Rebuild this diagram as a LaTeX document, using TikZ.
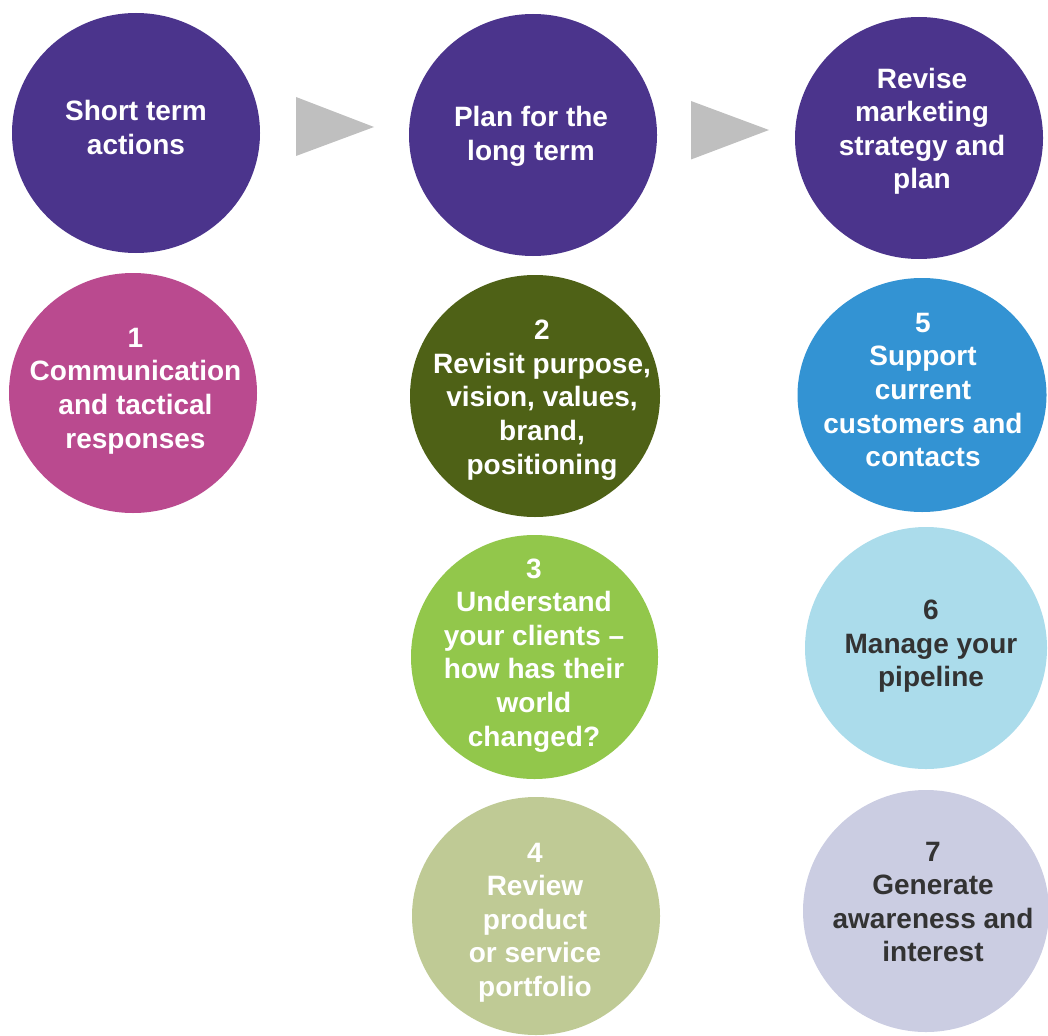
\documentclass[tikz,border=0pt]{standalone}
\usepackage{fontspec}
\setmainfont{Liberation Sans}
\usetikzlibrary{shapes.geometric}

\definecolor{stagepurple}{RGB}{75,52,140}
\definecolor{stepmagenta}{RGB}{186,74,143}
\definecolor{stepolive}{RGB}{78,97,22}
\definecolor{stepblue}{RGB}{51,147,211}
\definecolor{steplime}{RGB}{146,199,75}
\definecolor{stepsage}{RGB}{191,202,149}
\definecolor{stepsky}{RGB}{171,220,235}
\definecolor{steplavender}{RGB}{203,205,226}
\definecolor{flowgray}{RGB}{191,191,191}
\definecolor{darktext}{RGB}{51,51,51}

\tikzset{
  bubble/.style={ellipse, inner sep=0pt, outer sep=0pt, draw=none},
  caption/.style={anchor=north, inner sep=0pt, align=center, text=white,
    font=\fontsize{28}{33.6}\selectfont\bfseries},
  darkcaption/.style={caption, text=darktext},
  flowarrow/.style={fill=flowgray}
}

\begin{document}
\begin{tikzpicture}[x=1pt,y=-1pt]
\useasboundingbox (0,0) rectangle (1048,1035);
\clip (0,0) rectangle (1048,1035);

% stage headers
\node[bubble, fill=stagepurple, minimum width=248pt, minimum height=240pt] (short) at (136,133) {};
\node[bubble, fill=stagepurple, minimum width=248pt, minimum height=242pt] (long) at (533,135) {};
\node[bubble, fill=stagepurple, minimum width=248pt, minimum height=242pt] (revise) at (919,138) {};

\node[caption] (shortT) at (136,100.5) {Short term\\actions};
\node[caption] (longT) at (531,106.5) {Plan for the\\long term};
\node[caption] (reviseT) at (922,67.7) {Revise\\marketing\\strategy and\\plan};

% flow arrows between stages
\fill[flowarrow] (296,97) -- (374,127) -- (296,156) -- cycle;
\fill[flowarrow] (691,101) -- (769,130) -- (691,159.5) -- cycle;

% numbered steps
\node[bubble, fill=stepmagenta, minimum width=248pt, minimum height=240pt] (s1) at (133,393) {};
\node[bubble, fill=stepolive, minimum width=250pt, minimum height=242pt] (s2) at (535,396) {};
\node[bubble, fill=steplime, minimum width=247pt, minimum height=244pt] (s3) at (534.5,657) {};
\node[bubble, fill=stepsage, minimum width=248pt, minimum height=238pt] (s4) at (536,916) {};
\node[bubble, fill=stepblue, minimum width=249pt, minimum height=234pt] (s5) at (922,395) {};
\node[bubble, fill=stepsky, minimum width=242pt, minimum height=242pt] (s6) at (926,648) {};
\node[bubble, fill=steplavender, minimum width=246pt, minimum height=242pt] (s7) at (926,911) {};

\node[caption] (s1T) at (135.5,327.8) {1\\Communication\\and tactical\\responses};
\node[caption] (s2T) at (542,320) {2\\Revisit purpose,\\vision, values,\\brand,\\positioning};
\node[caption] (s3T) at (534,558.4) {3\\Understand\\your clients –\\how has their\\world\\changed?};
\node[caption] (s4T) at (535,842.7) {4\\Review\\product\\or service\\portfolio};
\node[caption] (s5T) at (923,312.8) {5\\Support\\current\\customers and\\contacts};
\node[darkcaption] (s6T) at (931,600) {6\\Manage your\\pipeline};
\node[darkcaption] (s7T) at (933,841.7) {7\\Generate\\awareness and\\interest};
\end{tikzpicture}
\end{document}
